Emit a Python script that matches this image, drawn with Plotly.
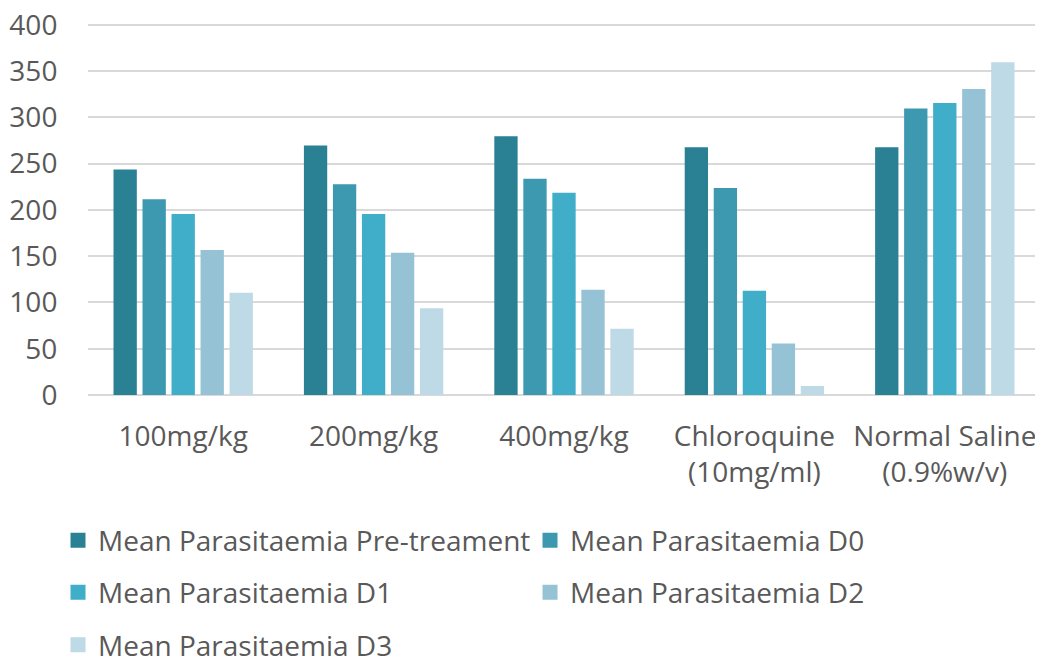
import plotly.graph_objects as go

categories = ["100mg/kg", "200mg/kg", "400mg/kg", "Chloroquine<br>(10mg/ml)", "Normal Saline<br>(0.9%w/v)"]
series_names = ["Mean Parasitaemia Pre-treament", "Mean Parasitaemia D0", "Mean Parasitaemia D1",
                "Mean Parasitaemia D2", "Mean Parasitaemia D3"]
pre_treatment = [242, 268, 278, 266, 266]
d0 = [210, 226, 232, 222, 308]
d1 = [194, 194, 217, 111, 314]
d2 = [155, 152, 112, 54, 329]
d3 = [109, 92, 70, 8, 358]
y_ticks = [0, 50, 100, 150, 200, 250, 300, 350, 400]
colors = ["#2a8194", "#3d99b0", "#40aec8", "#95c3d5", "#bddae6"]

FONT = "Open Sans"
TXT = "#595959"
FS = 28

# legend placement (paper coords): (x, y) per series
legend_pos = [(-0.0315, -0.391), (0.4643, -0.391), (-0.0315, -0.531), (0.4643, -0.531), (-0.0315, -0.672)]
legend_ids = ["legend", "legend2", "legend3", "legend4", "legend5"]

fig = go.Figure()
for name, vals, col, lid in zip(series_names, [pre_treatment, d0, d1, d2, d3], colors, legend_ids):
    fig.add_trace(go.Bar(x=categories, y=vals, name=name, legend=lid,
                         marker=dict(color=col, line=dict(width=3, color=col))))

layout_legends = {}
for lid, (lx, ly) in zip(legend_ids, legend_pos):
    layout_legends[lid] = dict(x=lx, y=ly, xanchor="left", yanchor="middle",
                               bgcolor="rgba(0,0,0,0)", borderwidth=0,
                               font=dict(family=FONT, size=FS, color=TXT), itemwidth=30)

fig.update_layout(
    width=1043, height=662,
    paper_bgcolor="white", plot_bgcolor="white",
    margin=dict(l=80, r=11, t=15, b=275, autoexpand=False),
    barmode="group", bargap=0.238, bargroupgap=0.3,
    font=dict(family=FONT, color=TXT, size=FS),
    showlegend=True,
    xaxis=dict(showgrid=False, showline=False, ticks="outside", ticklen=16, tickcolor="rgba(0,0,0,0)",
               tickfont=dict(family=FONT, size=FS, color=TXT), automargin=False,
               ticklabeloverflow="allow"),
    yaxis=dict(range=[0, 402], tickmode="array", tickvals=y_ticks,
               showgrid=True, gridcolor="#d9d9d9", gridwidth=1.5,
               zeroline=True, zerolinecolor="#d9d9d9", zerolinewidth=1.5, showline=False,
               ticks="outside", ticklen=24, tickcolor="rgba(0,0,0,0)",
               tickfont=dict(family=FONT, size=FS, color=TXT), automargin=False,
               ticklabeloverflow="allow"),
    **layout_legends,
)

fig.write_html("out.html")
